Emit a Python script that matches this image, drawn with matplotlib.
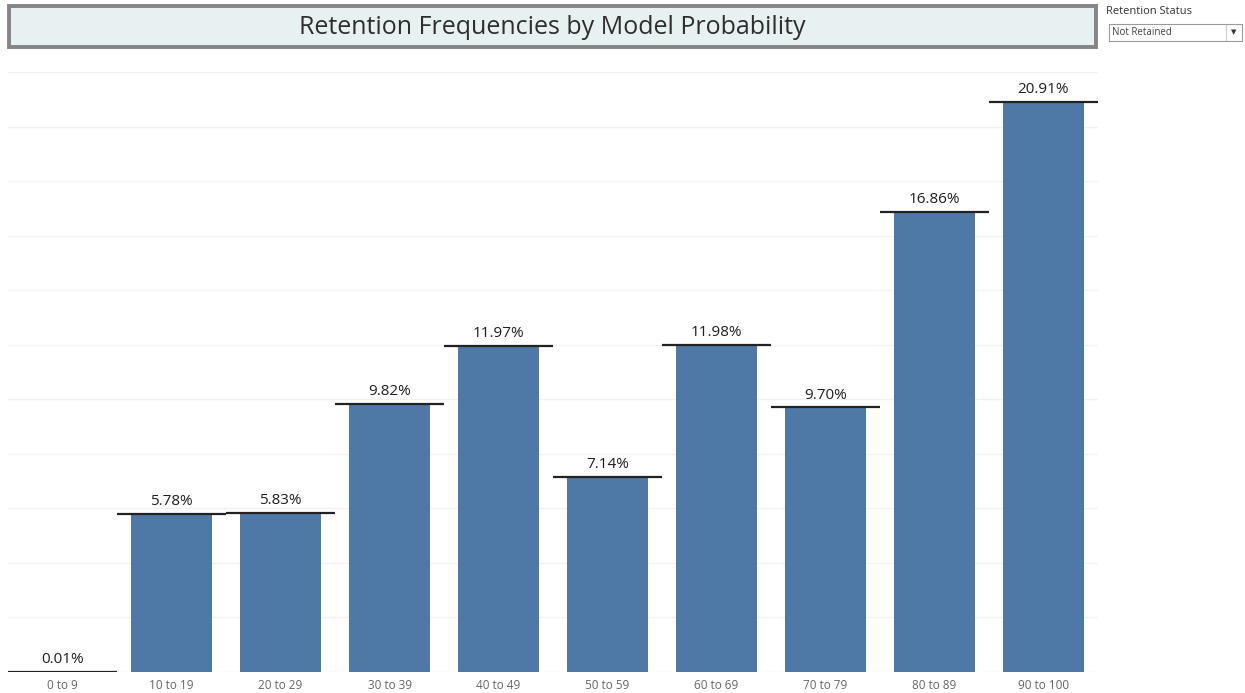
import matplotlib
matplotlib.use("Agg")
import matplotlib.pyplot as plt
from matplotlib.patches import Rectangle

categories = ["0 to 9", "10 to 19", "20 to 29", "30 to 39", "40 to 49",
              "50 to 59", "60 to 69", "70 to 79", "80 to 89", "90 to 100"]
values = [0.01, 5.78, 5.83, 9.82, 11.97, 7.14, 11.98, 9.70, 16.86, 20.91]
title = "Retention Frequencies by Model Probability"
filter_label = "Retention Status"
filter_value = "Not Retained"

BAR = "#4e79a7"
W, H = 1245, 693
fig = plt.figure(figsize=(W / 100, H / 100), dpi=100)
fig.patch.set_facecolor("white")

ax = fig.add_axes([8 / W, (H - 672) / H, (1098 - 8) / W, (672 - 72) / H])
x = list(range(len(categories)))
ax.bar(x, values, width=0.75, color=BAR, zorder=2)
for i, v in enumerate(values):
    ax.hlines(v, i - 0.5, i + 0.5, color="#222222", linewidth=1.6, zorder=3)
    ax.text(i, v + 0.18, f"{v:.2f}%", ha="center", va="bottom",
            fontsize=11, color="#1e1e1e", family="Open Sans")

ax.set_xlim(-0.5, len(categories) - 0.5)
ax.set_ylim(0, 22)
ax.set_yticks(range(0, 23, 2))
ax.yaxis.grid(True, color="#f2f2f2", linewidth=1, zorder=0)
ax.tick_params(axis="y", left=False, labelleft=False)
ax.tick_params(axis="x", length=0, pad=5, labelsize=8.5, labelcolor="#666666")
ax.set_xticks(x)
ax.set_xticklabels(categories, family="Open Sans")
for s in ax.spines.values():
    s.set_visible(False)

# title banner
fig.patches.append(Rectangle((9 / W, (H - 47) / H), (1096 - 9) / W, 41 / H,
                             transform=fig.transFigure, facecolor="#e8f1f1",
                             edgecolor="#858585", linewidth=2.8))
fig.text((9 + 1096) / 2 / W, (H - 27) / H, title, ha="center", va="center",
         fontsize=18, color="#2e2e2e", family="Open Sans")

# filter control
fig.text(1106 / W, (H - 12) / H, filter_label, ha="left", va="center",
         fontsize=8, color="#333333", family="Open Sans")
fig.patches.append(Rectangle((1109 / W, (H - 41) / H), 133 / W, 17 / H,
                             transform=fig.transFigure, facecolor="white",
                             edgecolor="#9a9a9a", linewidth=0.8))
fig.text(1112 / W, (H - 32.5) / H, filter_value, ha="left", va="center",
         fontsize=7, color="#444444", family="Open Sans")
fig.lines.append(plt.Line2D([1226 / W, 1226 / W], [(H - 40) / H, (H - 25) / H],
                            transform=fig.transFigure, color="#cccccc", linewidth=0.8))
fig.text(1234 / W, (H - 32.5) / H, "▼", ha="center", va="center",
         fontsize=5, color="#333333", family="DejaVu Sans")

fig.savefig("out.png", dpi=100, facecolor="white")
